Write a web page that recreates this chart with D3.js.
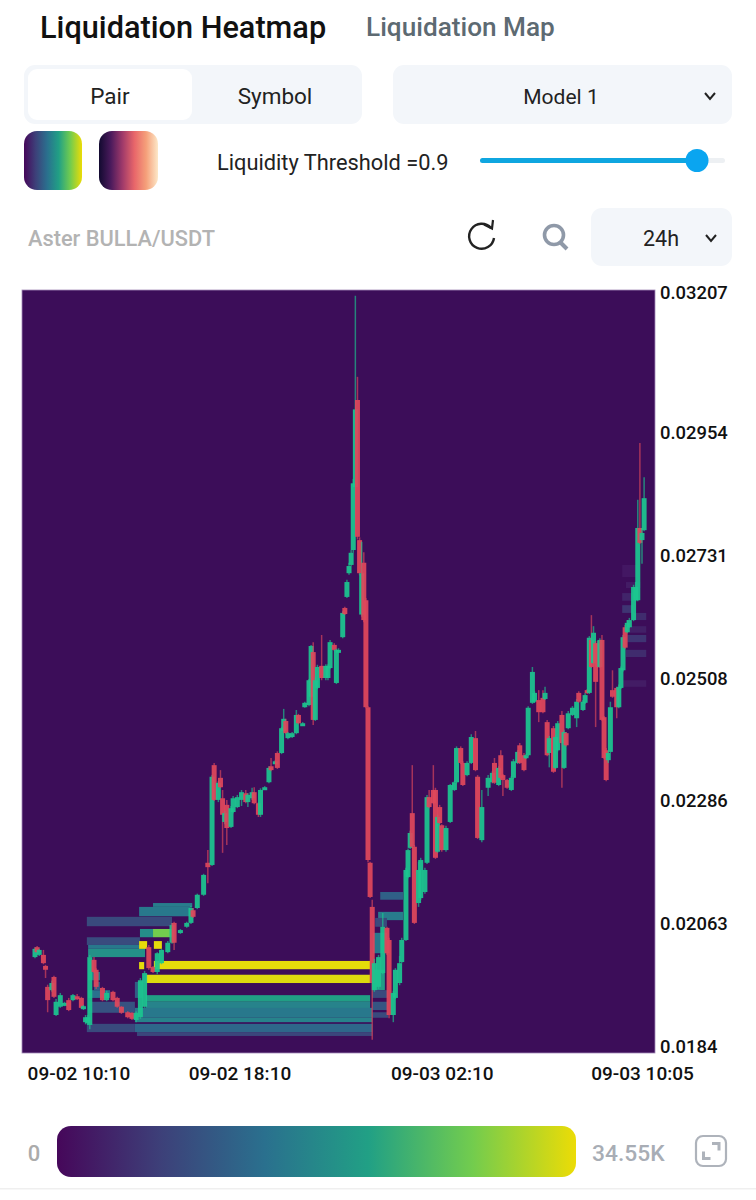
<!DOCTYPE html>
<html>
<head>
<meta charset="utf-8">
<title>Liquidation Heatmap</title>
<script src="https://cdnjs.cloudflare.com/ajax/libs/d3/7.8.5/d3.min.js"></script>
<style>
  html, body { margin: 0; padding: 0; background: #fff; }
  svg { display: block; font-family: Roboto, sans-serif; }
</style>
</head>
<body>
<div id="chart"></div>
<script>
// minutes after 09-02 10:05
var candleTimes = [
  0,5,10,20,25,30,40,45,50,60,
  70,80,90,100,110,115,120,125,130,140,
  145,160,170,185,195,205,220,230,240,250,
  260,270,280,290,300,315,325,330,345,360,
  370,375,385,400,410,420,425,435,440,445,
  450,455,465,470,480,490,500,505,515,520,
  530,535,545,555,560,570,575,585,590,595,
  600,610,620,625,635,640,650,655,660,665,
  670,680,690,695,700,710,715,720,730,735,
  740,745,750,755,760,765,770,775,780,785,
  790,795,800,805,815,825,835,840,850,855,
  865,870,880,885,890,895,900,910,915,925,
  930,935,945,950,955,960,965,975,985,995,
  1000,1010,1015,1025,1035,1045,1050,1060,1075,1085,
  1090,1100,1105,1110,1120,1130,1135,1145,1150,1160,
  1165,1170,1180,1185,1195,1205,1210,1215,1220,1230,
  1235,1240,1250,1255,1260,1265,1275,1285,1290,1300,
  1305,1310,1315,1320,1325,1330,1335,1340,1345,1350,
  1355,1360,1365,1370,1380,1385,1390,1395,1400,1405,
  1410,1420,1425,1430,1435,1440,1445
];
var candleOpens = [
  .02003,.02021,.02007,.02007,.01987,.01949,.01943,.01967,.01898,.01913,
  .01916,.01925,.01925,.01932,.01929,.01909,.01885,.01883,.01880,.01998,
  .01980,.01947,.01925,.01940,.01929,.01913,.01903,.01902,.01889,.01894,
  .01913,.02021,.01985,.01976,.01992,.02012,.02029,.02065,.02047,.02058,
  .02065,.02088,.02092,.02116,.02174,.02170,.02351,.02288,.02328,.02291,
  .02248,.02279,.02239,.02266,.02275,.02288,.02300,.02284,.02291,.02302,
  .02282,.02261,.02308,.02320,.02349,.02355,.02373,.02373,.02413,.02431,
  .02400,.02402,.02409,.02442,.02424,.02456,.02460,.02475,.02556,.02433,
  .02491,.02531,.02509,.02509,.02527,.02569,.02500,.02556,.02583,.02636,
  .02656,.02699,.02714,.02741,.02855,.03013,.02759,.02624,.02718,.02650,
  .02456,.02174,.02094,.01943,.01949,.01974,.02056,.02034,.01898,.01929,
  .01956,.01994,.02034,.02148,.02201,.02264,.02203,.02101,.02110,.02121,
  .02174,.02293,.02306,.02306,.02194,.02275,.02242,.02197,.02248,.02306,
  .02320,.02382,.02355,.02333,.02355,.02400,.02330,.02215,.02310,.02320,
  .02355,.02315,.02369,.02333,.02324,.02306,.02328,.02355,.02387,.02369,
  .02364,.02369,.02464,.02466,.02469,.02473,.02471,.02429,.02373,.02418,
  .02346,.02378,.02442,.02346,.02409,.02418,.02442,.02436,.02482,.02451,
  .02464,.02487,.02482,.02578,.02536,.02572,.02572,.02529,.02578,.02438,
  .02378,.02360,.02375,.02487,.02491,.02456,.02491,.02523,.02601,.02592,
  .02601,.02614,.02650,.02650,.02781,.02759,.02777
];
var candleCloses = [
  .02018,.02012,.02016,.01992,.01980,.01925,.01956,.01931,.01922,.01934,
  .01920,.01907,.01934,.01927,.01911,.01914,.01894,.01894,.02003,.01976,
  .01949,.01925,.01938,.01925,.01913,.01902,.01894,.01891,.01902,.01961,
  .01974,.01983,.01976,.02010,.02016,.02029,.02061,.02029,.02052,.02065,
  .02092,.02076,.02116,.02152,.02166,.02330,.02288,.02319,.02311,.02261,
  .02264,.02237,.02273,.02291,.02293,.02302,.02284,.02297,.02302,.02282,
  .02261,.02306,.02311,.02346,.02342,.02358,.02346,.02418,.02435,.02409,
  .02409,.02409,.02442,.02427,.02427,.02464,.02505,.02567,.02433,.02505,
  .02529,.02509,.02531,.02531,.02574,.02560,.02560,.02560,.02627,.02625,
  .02683,.02712,.02736,.02862,.02996,.02765,.02699,.02699,.02614,.02456,
  .02179,.02112,.01956,.01992,.02003,.02058,.02010,.01898,.01938,.01980,
  .01992,.02034,.02161,.02197,.02228,.02203,.02065,.02161,.02179,.02161,
  .02293,.02275,.02282,.02183,.02257,.02246,.02197,.02237,.02315,.02320,
  .02382,.02355,.02315,.02355,.02402,.02342,.02219,.02275,.02328,.02337,
  .02319,.02346,.02328,.02324,.02310,.02328,.02358,.02375,.02355,.02342,
  .02369,.02455,.02520,.02482,.02447,.02447,.02482,.02369,.02400,.02339,
  .02402,.02427,.02391,.02411,.02387,.02445,.02455,.02466,.02466,.02466,
  .02478,.02482,.02582,.02529,.02591,.02502,.02529,.02578,.02433,.02364,
  .02324,.02373,.02456,.02475,.02456,.02493,.02527,.02583,.02564,.02609,
  .02614,.02674,.02674,.02781,.02754,.02772,.02835
];
var candleHighs = [
  .02021,.02023,.02018,.02016,.01989,.01953,.01960,.01969,.01927,.01938,
  .01922,.01929,.01936,.01936,.01931,.01916,.01898,.01898,.02007,.02003,
  .01983,.01949,.01942,.01942,.01931,.01914,.01905,.01903,.01905,.01965,
  .01978,.02025,.01987,.02012,.02018,.02032,.02065,.02067,.02054,.02067,
  .02096,.02092,.02118,.02154,.02197,.02333,.02355,.02322,.02342,.02306,
  .02268,.02288,.02277,.02295,.02297,.02306,.02306,.02300,.02310,.02311,
  .02284,.02309,.02313,.02349,.02364,.02360,.02376,.02420,.02453,.02435,
  .02411,.02411,.02451,.02444,.02429,.02466,.02507,.02569,.02574,.02510,
  .02533,.02587,.02534,.02534,.02578,.02572,.02562,.02563,.02630,.02638,
  .02687,.02718,.02741,.02870,.03202,.03055,.02764,.02756,.02737,.02654,
  .02458,.02176,.02107,.02000,.02007,.02083,.02058,.02038,.01942,.01983,
  .02005,.02038,.02165,.02200,.02232,.02351,.02206,.02176,.02183,.02165,
  .02297,.02306,.02351,.02310,.02261,.02279,.02244,.02241,.02317,.02322,
  .02385,.02385,.02358,.02358,.02407,.02413,.02333,.02306,.02333,.02340,
  .02364,.02349,.02378,.02335,.02326,.02331,.02362,.02378,.02391,.02373,
  .02371,.02458,.02529,.02485,.02487,.02487,.02493,.02433,.02404,.02422,
  .02406,.02431,.02449,.02415,.02411,.02449,.02458,.02471,.02485,.02469,
  .02482,.02489,.02585,.02623,.02603,.02576,.02576,.02581,.02587,.02440,
  .02382,.02376,.02466,.02523,.02493,.02497,.02530,.02587,.02605,.02614,
  .02618,.02678,.02683,.02832,.02935,.02781,.02873
];
var candleLows = [
  .02001,.02011,.02005,.01990,.01965,.01903,.01940,.01929,.01896,.01911,
  .01914,.01905,.01923,.01925,.01909,.01907,.01881,.01880,.01872,.01974,
  .01945,.01923,.01923,.01923,.01911,.01900,.01892,.01889,.01885,.01891,
  .01911,.01980,.01974,.01972,.01990,.02010,.02027,.02016,.02045,.02056,
  .02063,.02074,.02090,.02114,.02137,.02168,.02286,.02284,.02309,.02192,
  .02244,.02206,.02237,.02264,.02273,.02277,.02282,.02275,.02288,.02280,
  .02257,.02257,.02306,.02318,.02340,.02353,.02344,.02371,.02411,.02407,
  .02398,.02400,.02407,.02425,.02422,.02455,.02458,.02473,.02424,.02431,
  .02489,.02505,.02505,.02505,.02525,.02558,.02498,.02554,.02581,.02623,
  .02654,.02696,.02712,.02736,.02850,.02760,.02695,.02620,.02610,.02454,
  .02175,.02110,.01853,.01940,.01945,.01972,.02007,.01892,.01885,.01927,
  .01952,.01992,.02032,.02146,.02199,.02201,.02063,.02094,.02107,.02118,
  .02172,.02273,.02280,.02181,.02192,.02244,.02194,.02194,.02246,.02304,
  .02318,.02353,.02313,.02331,.02353,.02340,.02217,.02211,.02295,.02318,
  .02317,.02313,.02326,.02295,.02308,.02304,.02326,.02353,.02353,.02340,
  .02362,.02367,.02462,.02464,.02429,.02445,.02469,.02367,.02347,.02337,
  .02344,.02376,.02310,.02344,.02385,.02416,.02440,.02420,.02464,.02449,
  .02462,.02480,.02480,.02527,.02534,.02420,.02527,.02527,.02431,.02362,
  .02322,.02355,.02373,.02473,.02436,.02454,.02489,.02521,.02562,.02590,
  .02600,.02612,.02648,.02648,.02752,.02716,.02775
];

// liquidation bands: time span, price span, liquidity value
var bandStarts = [280,247,123,249,280,123,126,126,247,282,247,282,263,263,263,237,237,237,123,242,126,126,126,140,237,126,
  819,814,807,802,800,800,800,800,1393,1402,1393,1393,1417,1405,1405,1402,1395];
var bandEnds = [373,368,325,280,325,249,261,261,266,301,259,795,795,795,795,800,800,800,237,800,237,154,178,154,256,140,
  873,873,835,835,830,838,838,838,1429,1436,1419,1419,1450,1450,1450,1450,1450];
var bandLows = [.02094,.02077,.02059,.02039,.02039,.02025,.02018,.02003,.02018,.02018,.01981,.01981,.01956,.01922,.01909,.01893,.01885,.01867,.01867,.01860,.01902,.01961,.01929,.01943,.01929,.01976,
  .02107,.02070,.02058,.02010,.01943,.01929,.01907,.01893,.02692,.02672,.02649,.02627,.02614,.02591,.02574,.02547,.02493];
var bandHighs = [.02101,.02094,.02076,.02054,.02054,.02039,.02025,.02018,.02032,.02032,.01994,.01996,.01971,.01934,.01922,.01911,.01893,.01882,.01882,.01867,.01922,.01976,.01943,.01958,.01958,.01998,
  .02121,.02085,.02074,.02047,.01980,.01943,.01922,.01903,.02714,.02683,.02663,.02641,.02627,.02603,.02587,.02560,.02505];
var bandValues = [15500,15000,8300,18000,27600,8500,15000,18500,34200,34200,34200,34200,33700,20500,16500,15000,16500,12500,8300,7800,9500,15000,14000,11000,11000,11000,
  11500,15500,8300,15000,20000,8300,10000,8300,2000,2500,3500,5500,4500,3000,5500,4500,2500];

var priceTicks = [0.03207, 0.02954, 0.02731, 0.02508, 0.02286, 0.02063, 0.0184];
var timeTicks = [5, 485, 965, 1440];
var timeLabels = ['09-02 10:10', '09-02 18:10', '09-03 02:10', '09-03 10:05'];
var heatStops = ['#46075a', '#3d4079', '#2a708e', '#21a085', '#72cc4e', '#ecdc06'];
var maxLiquidity = 34550;

(function(){
  var svg = d3.select('#chart').append('svg').attr('width', 756).attr('height', 1200);
  var defs = svg.append('defs');

  var plot = { left: 22, right: 655, top: 290, bottom: 1053 };
  var x = d3.scaleLinear().domain([0, 1440]).range([35, 642]);
  var y = d3.scaleLinear().domain([0.0184, 0.03207]).range([1047, 293]);
  var heat = d3.scaleLinear()
    .domain(heatStops.map(function(c, i){ return maxLiquidity * i / (heatStops.length - 1); }))
    .range(heatStops);

  function addGradient(id, colors){
    var g = defs.append('linearGradient').attr('id', id);
    colors.forEach(function(c, i){
      g.append('stop').attr('offset', (100 * i / (colors.length - 1)) + '%').attr('stop-color', c);
    });
  }
  addGradient('viridisGrad', heatStops);
  addGradient('magmaGrad', ['#120a30', '#4a1a5c', '#a03a6a', '#e8666a', '#f5a07a', '#fde8c8']);

  function label(px, py, str, size, color, anchor, weight){
    return svg.append('text').attr('x', px).attr('y', py).text(str)
      .attr('font-size', size).attr('fill', color)
      .attr('text-anchor', anchor || 'start').attr('font-weight', weight || 400);
  }
  function chevron(cx, cy){
    svg.append('path').attr('d', 'M' + (cx - 5) + ',' + (cy - 3) + 'L' + cx + ',' + (cy + 3) + 'L' + (cx + 5) + ',' + (cy - 3))
      .attr('fill', 'none').attr('stroke', '#222').attr('stroke-width', 2);
  }
  function panel(px, py, w, h, fill, r){
    svg.append('rect').attr('x', px).attr('y', py).attr('width', w).attr('height', h)
      .attr('rx', r).attr('fill', fill);
  }

  // header
  label(40, 38, 'Liquidation Heatmap', 30.7, '#111', 'start', 500);
  label(366, 36, 'Liquidation Map', 26.2, '#5d6a72', 'start', 500);

  panel(24, 65, 338, 59, '#f3f6fa', 11);
  panel(28, 69, 164, 51, '#fff', 9);
  label(110, 104, 'Pair', 22.5, '#222', 'middle');
  label(275, 104, 'Symbol', 22.5, '#222', 'middle');
  panel(393, 65, 339, 59, '#f3f6fa', 11);
  label(561, 104, 'Model 1', 21, '#222', 'middle');
  chevron(710, 96);

  panel(24, 131, 58, 59, 'url(#viridisGrad)', 13);
  panel(99, 131, 59, 59, 'url(#magmaGrad)', 13);
  label(217, 170, 'Liquidity Threshold =0.9', 21.8, '#222');
  panel(480, 158, 245, 5, '#edf0f3', 2.5);
  panel(480, 158, 217, 5, '#0fa6e0', 2.5);
  svg.append('circle').attr('cx', 697).attr('cy', 160.5).attr('r', 11.5).attr('fill', '#0aa5f0');

  label(28, 246, 'Aster BULLA/USDT', 21.8, '#b3b3b3', 'start', 500);
  // refresh icon
  svg.append('path').attr('d', 'M491,228A12.5,12.5 0 1 0 494,238')
    .attr('fill', 'none').attr('stroke', '#222').attr('stroke-width', 2.4);
  svg.append('path').attr('d', 'M484,224.5L492,228.5L493,220')
    .attr('fill', 'none').attr('stroke', '#222').attr('stroke-width', 2.2);
  // search icon
  svg.append('circle').attr('cx', 554).attr('cy', 235).attr('r', 9.5)
    .attr('fill', 'none').attr('stroke', '#8f99a8').attr('stroke-width', 3.6);
  svg.append('path').attr('d', 'M560,242L567,249').attr('stroke', '#8f99a8').attr('stroke-width', 4);
  panel(591, 208, 141, 58, '#f3f6fa', 11);
  label(661, 246, '24h', 21.5, '#222', 'middle');
  chevron(711, 238);

  // plot
  svg.append('rect').attr('x', plot.left).attr('y', plot.top)
    .attr('width', plot.right - plot.left).attr('height', plot.bottom - plot.top)
    .attr('fill', '#3c0d59').attr('stroke', '#a48bb8').attr('stroke-width', 0.8);

  svg.append('g').selectAll('rect').data(d3.range(bandStarts.length)).enter().append('rect')
    .attr('x', function(i){ return x(bandStarts[i]); })
    .attr('width', function(i){ return x(bandEnds[i]) - x(bandStarts[i]); })
    .attr('y', function(i){ return y(bandHighs[i]); })
    .attr('height', function(i){ return y(bandLows[i]) - y(bandHighs[i]); })
    .attr('fill', function(i){ return heat(bandValues[i]); });

  var up = '#1cc690', down = '#e0485c';
  var candles = svg.append('g').selectAll('g').data(d3.range(candleTimes.length)).enter().append('g')
    .attr('opacity', 0.93);
  function candleColor(i){ return candleCloses[i] >= candleOpens[i] ? up : down; }
  candles.append('line')
    .attr('x1', function(i){ return x(candleTimes[i]); })
    .attr('x2', function(i){ return x(candleTimes[i]); })
    .attr('y1', function(i){ return y(candleHighs[i]); })
    .attr('y2', function(i){ return y(candleLows[i]); })
    .attr('stroke', candleColor).attr('stroke-width', 1.5).attr('stroke-opacity', 0.7);
  candles.append('rect')
    .attr('x', function(i){ return x(candleTimes[i]) - 2.5; })
    .attr('width', 5)
    .attr('y', function(i){ return y(Math.max(candleOpens[i], candleCloses[i])); })
    .attr('height', function(i){ return Math.max(3, Math.abs(y(candleOpens[i]) - y(candleCloses[i]))); })
    .attr('fill', candleColor);

  // axes
  var yAxis = d3.axisRight(y).tickValues(priceTicks).tickSize(0).tickPadding(0)
    .tickFormat(function(d){ return String(d); });
  var yG = svg.append('g').attr('transform', 'translate(660,0)').call(yAxis);
  yG.select('.domain').remove();
  yG.selectAll('text').attr('font-size', 18.4).attr('font-weight', 500).attr('fill', '#111')
    .attr('font-family', 'Roboto, sans-serif');

  var xAxis = d3.axisBottom(x).tickValues(timeTicks).tickSize(0).tickPadding(0)
    .tickFormat(function(d, i){ return timeLabels[i]; });
  var xG = svg.append('g').attr('transform', 'translate(0,1066)').call(xAxis);
  xG.select('.domain').remove();
  xG.selectAll('text').attr('font-size', 19).attr('font-weight', 500).attr('fill', '#111')
    .attr('font-family', 'Roboto, sans-serif');
  // first label is pushed inside the plot edge, as in the app
  xG.select('.tick text').attr('text-anchor', 'start').attr('x', -10);

  // legend
  label(34, 1161, '0', 22, '#ababab', 'middle', 500);
  panel(57, 1126, 519, 51, 'url(#viridisGrad)', 14);
  label(592, 1161, '34.55K', 22.8, '#a8adb5', 'start', 500);
  svg.append('rect').attr('x', 696).attr('y', 1136).attr('width', 30).attr('height', 30)
    .attr('rx', 7).attr('fill', 'none').attr('stroke', '#aeb3bb').attr('stroke-width', 2.2);
  svg.append('path').attr('d', 'M712,1142h8.5v8.5h-3v-5.5h-5.5zM702,1151.5h3v5.5h5.5v3h-8.5z').attr('fill', '#aeb3bb');
  svg.append('rect').attr('x', 0).attr('y', 1188).attr('width', 756).attr('height', 1.5).attr('fill', '#efefef');
})();
</script>
</body>
</html>
